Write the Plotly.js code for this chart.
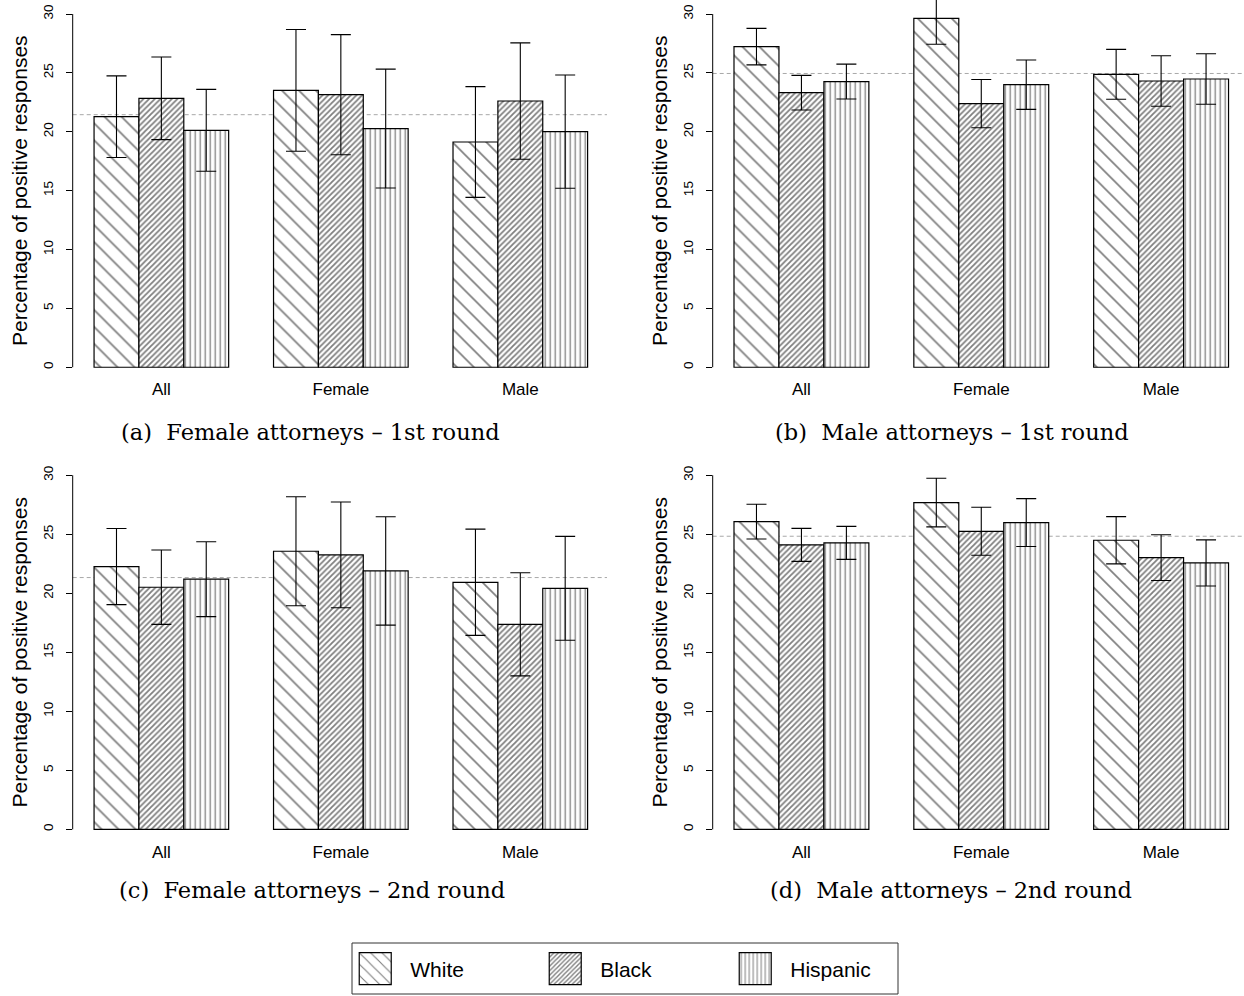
<!DOCTYPE html>
<html>
<head>
<meta charset="utf-8">
<script src="https://cdn.plot.ly/plotly-3.0.1.min.js"></script>
<style>html,body{margin:0;padding:0;background:#fff;}</style>
</head>
<body>
<div id="chart" style="width:1244px;height:996px;"></div>
<script>
// ---- data ----
const categories = ['All', 'Female', 'Male'];
const seriesNames = ['White', 'Black', 'Hispanic'];
const yTicks = [0, 5, 10, 15, 20, 25, 30];

// (a) Female attorneys – 1st round
const aWhite = [21.28, 23.52, 19.13];
const aWhiteErr = [3.47, 5.17, 4.70];
const aBlack = [22.84, 23.15, 22.61];
const aBlackErr = [3.51, 5.10, 4.94];
const aHispanic = [20.12, 20.27, 20.01];
const aHispanicErr = [3.48, 5.05, 4.81];
// (b) Male attorneys – 1st round
const bWhite = [27.23, 29.63, 24.88];
const bWhiteErr = [1.55, 2.20, 2.12];
const bBlack = [23.32, 22.39, 24.31];
const bBlackErr = [1.47, 2.05, 2.15];
const bHispanic = [24.26, 24.00, 24.48];
const bHispanicErr = [1.48, 2.10, 2.15];
// (c) Female attorneys – 2nd round
const cWhite = [22.26, 23.56, 20.93];
const cWhiteErr = [3.22, 4.62, 4.50];
const cBlack = [20.51, 23.25, 17.37];
const cBlackErr = [3.15, 4.48, 4.37];
const cHispanic = [21.19, 21.89, 20.42];
const cHispanicErr = [3.17, 4.59, 4.40];
// (d) Male attorneys – 2nd round
const dWhite = [26.07, 27.68, 24.49];
const dWhiteErr = [1.47, 2.06, 2.00];
const dBlack = [24.10, 25.25, 23.02];
const dBlackErr = [1.40, 2.03, 1.94];
const dHispanic = [24.27, 25.99, 22.57];
const dHispanicErr = [1.40, 2.03, 1.95];

// overall average (dashed reference line) per panel
const refLines = [21.45, 24.95, 21.33, 24.83];
const captions = [
  '(a)\u00a0 Female attorneys \u2013 1st round',
  '(b)\u00a0 Male attorneys \u2013 1st round',
  '(c)\u00a0 Female attorneys \u2013 2nd round',
  '(d)\u00a0 Male attorneys \u2013 2nd round'
];

// ---- styling ----
const patterns = {
  White:    {shape: '\\', size: 12, solidity: 0.14},
  Black:    {shape: '/',  size: 4,  solidity: 0.45},
  Hispanic: {shape: '|',  size: 5,  solidity: 0.26}
};
const sans = 'Liberation Sans, Arial, Helvetica, sans-serif';
const serif = 'DejaVu Serif, Liberation Serif, serif';

const panels = [
  {vals: [aWhite, aBlack, aHispanic], errs: [aWhiteErr, aBlackErr, aHispanicErr], xa: 'x',  ya: 'y'},
  {vals: [bWhite, bBlack, bHispanic], errs: [bWhiteErr, bBlackErr, bHispanicErr], xa: 'x2', ya: 'y2'},
  {vals: [cWhite, cBlack, cHispanic], errs: [cWhiteErr, cBlackErr, cHispanicErr], xa: 'x3', ya: 'y3'},
  {vals: [dWhite, dBlack, dHispanic], errs: [dWhiteErr, dBlackErr, dHispanicErr], xa: 'x4', ya: 'y4'}
];

const traces = [];
panels.forEach((p, pi) => {
  seriesNames.forEach((name, si) => {
    const pat = patterns[name];
    traces.push({
      type: 'bar',
      name: name,
      legendgroup: name,
      showlegend: pi === 0,
      x: categories,
      y: p.vals[si],
      xaxis: p.xa,
      yaxis: p.ya,
      offsetgroup: name,
      marker: {
        color: '#ffffff',
        line: {color: '#000000', width: 1.2},
        pattern: {shape: pat.shape, size: pat.size, solidity: pat.solidity,
                  fgcolor: '#000000', bgcolor: '#ffffff', fillmode: 'overlay'}
      },
      error_y: {type: 'data', array: p.errs[si], visible: true,
                color: '#000000', thickness: 1.1, width: 10},
      hoverinfo: 'skip'
    });
  });
});

function xAxis(domain, range) {
  return {domain: domain, range: range, type: 'category', showgrid: false,
          zeroline: false, showline: false, ticks: '', ticklabelstandoff: -4,
          tickfont: {family: sans, size: 17, color: '#000'}, fixedrange: true};
}
function yAxis(domain, range, anchor) {
  return {domain: domain, range: range, anchor: anchor, tickvals: yTicks,
          ticktext: yTicks.map(String), ticks: 'outside', ticklen: 6, tickwidth: 1,
          tickcolor: '#000', tickangle: -90, ticklabelstandoff: 7,
          showgrid: false, zeroline: false, showline: false,
          tickfont: {family: sans, size: 13.5, color: '#000'},
          title: {text: 'Percentage of positive responses', standoff: 7,
                  font: {family: sans, size: 21, color: '#000'}},
          fixedrange: true};
}

const xLeft = [0.05844, 0.48794], xRight = [0.5729, 1.0];
const rLeft = [-0.494, 2.483], rRight = [-0.4935, 2.461];
const yTop = [0.6171, 1.0], yBot = [0.1531, 0.5371];

const layout = {
  width: 1244, height: 996,
  margin: {l: 0, r: 0, t: 0, b: 0},
  paper_bgcolor: '#fff', plot_bgcolor: 'rgba(0,0,0,0)',
  barmode: 'group', bargap: 0.25, bargroupgap: 0,
  font: {family: sans, color: '#000'},
  xaxis:  Object.assign(xAxis(xLeft, rLeft), {anchor: 'y'}),
  xaxis2: Object.assign(xAxis(xRight, rRight), {anchor: 'y2'}),
  xaxis3: Object.assign(xAxis(xLeft, rLeft), {anchor: 'y3'}),
  xaxis4: Object.assign(xAxis(xRight, rRight), {anchor: 'y4'}),
  yaxis:  yAxis(yTop, [-1.2, 31.19], 'x'),
  yaxis2: yAxis(yTop, [-1.2, 31.19], 'x2'),
  yaxis3: yAxis(yBot, [-1.2, 31.2], 'x3'),
  yaxis4: yAxis(yBot, [-1.2, 31.2], 'x4'),
  showlegend: true,
  legend: {orientation: 'h', x: 0.2735, xanchor: 'left', y: 0.0271, yanchor: 'middle',
           bgcolor: 'rgba(0,0,0,0)', borderwidth: 0, itemwidth: 60,
           entrywidth: 115, entrywidthmode: 'pixels', traceorder: 'normal',
           font: {family: sans, size: 21, color: '#000'}, itemclick: false, itemdoubleclick: false},
  shapes: [],
  annotations: []
};

const axPairs = [['x', 'y'], ['x2', 'y2'], ['x3', 'y3'], ['x4', 'y4']];
axPairs.forEach((ap, i) => {
  // R-style y axis line spanning first to last tick
  layout.shapes.push({type: 'line', xref: ap[0] + ' domain', yref: ap[1],
    x0: 0, x1: 0, y0: yTicks[0], y1: yTicks[yTicks.length - 1],
    line: {color: '#000', width: 1}});
  // dashed overall-average line
  layout.shapes.push({type: 'line', xref: ap[0] + ' domain', yref: ap[1],
    x0: 0, x1: 1, y0: refLines[i], y1: refLines[i], layer: 'below',
    line: {color: '#a8a8a8', width: 1, dash: '4px,3px'}});
});
// legend frame
layout.shapes.push({type: 'rect', xref: 'paper', yref: 'paper',
  x0: 352 / 1244, x1: 898 / 1244, y0: 1 - 994 / 996, y1: 1 - 943 / 996,
  line: {color: '#333', width: 1}, fillcolor: 'rgba(0,0,0,0)'});

const capPos = [[310, 432], [952, 432], [312, 890], [951, 890]];
captions.forEach((t, i) => {
  layout.annotations.push({text: t, xref: 'paper', yref: 'paper',
    x: capPos[i][0] / 1244, y: 1 - capPos[i][1] / 996, xanchor: 'center', yanchor: 'middle',
    showarrow: false, font: {family: serif, size: 22.5, color: '#000'}});
});

function enlargeLegendSwatches() {
  document.querySelectorAll('.legend .legendpoints path').forEach(p => {
    p.setAttribute('d', 'M16,16H-16V-16H16Z');
  });
}
const gd = document.getElementById('chart');
Plotly.newPlot(gd, traces, layout, {staticPlot: true, displayModeBar: false}).then(() => {
  enlargeLegendSwatches();
  gd.on('plotly_afterplot', enlargeLegendSwatches);
  setTimeout(enlargeLegendSwatches, 0);
  setTimeout(enlargeLegendSwatches, 100);
});
</script>
</body>
</html>
